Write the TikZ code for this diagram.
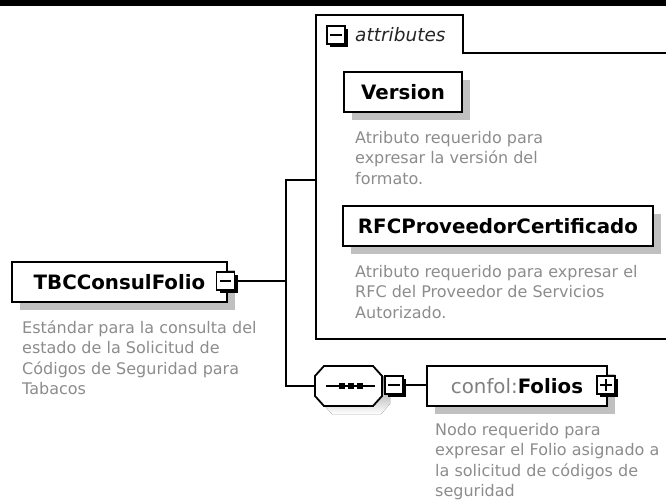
\documentclass[tikz,border=0pt]{standalone}
\usepackage{fontspec}
\setmainfont{DejaVu Sans}
\usetikzlibrary{shadows}
\definecolor{shade}{HTML}{C0C0C0}
\definecolor{descgray}{HTML}{8C8C8C}
\definecolor{prefixgray}{HTML}{808080}
\begin{document}
\begin{tikzpicture}[x=1pt,y=-1pt,
  namebox/.style={draw=black, line width=1.8pt, fill=white, minimum height=40pt, inner sep=0pt,
    font=\fontsize{19.8}{24}\selectfont\bfseries,
    general shadow={fill=shade, shadow xshift=8pt, shadow yshift=-8pt}},
  desc/.style={anchor=north west, inner sep=0pt, align=left, text=descgray,
    font=\fontsize{16}{20.5}\selectfont},
  icon/.style={draw=black, line width=1.3pt, fill=white, minimum size=18pt, inner sep=0pt,
    general shadow={fill=black, shadow xshift=3pt, shadow yshift=-3pt}},
  conn/.style={line width=1.8pt, draw=black},
  sign/.style={line width=1.4pt, draw=black}]
\useasboundingbox (0,0) rectangle (666,503);
\fill[black] (0,0) rectangle (666,6);

% attributes group
\draw[line width=1.8pt] (666,53) -- (463,53) -- (463,15) -- (316,15) -- (316,339) -- (666,339);
\node[icon] (attricon) at (336,35) {};
\draw[sign] ([xshift=4pt]attricon.west) -- ([xshift=-4pt]attricon.east);
\node[anchor=west, inner sep=0pt, text=black!85, font=\fontsize{18.5}{22}\selectfont\itshape] (attrlabel) at (355,35) {attributes};

\node[namebox, minimum width=118pt] (version) at (403,92) {Version};
\node[desc] (versiondesc) at (355,131) {Atributo requerido para\\expresar la versión del\\formato.};

\node[namebox, minimum width=310pt] (rfc) at (498,226) {RFCProveedorCertificado};
\node[desc] (rfcdesc) at (355,265) {Atributo requerido para expresar el\\RFC del Proveedor de Servicios\\Autorizado.};

% root element
\node[namebox, minimum width=215pt] (tbc) at (119.5,282) {TBCConsulFolio};
\node[desc] (tbcdesc) at (22,320) {Estándar para la consulta del\\estado de la Solicitud de\\Códigos de Seguridad para\\Tabacos};
\node[icon] (tbcicon) at (225.5,281) {};
\draw[sign] ([xshift=4pt]tbcicon.west) -- ([xshift=-4pt]tbcicon.east);

% sequence compositor
\fill[shade] (332,374) -- (381,374) -- (390,384) -- (390,404) -- (381,414) -- (332,414) -- (323,404) -- (323,384) -- cycle;
\draw[line width=1.8pt, fill=white] (324,366) -- (373,366) -- (382,376) -- (382,396) -- (373,406) -- (324,406) -- (315,396) -- (315,376) -- cycle;
\node[minimum width=67pt, minimum height=40pt, inner sep=0pt] (seq) at (348.5,386) {};
\draw[line width=1.3pt] (326,386) -- (375,386);
\fill[black] (338.5,383) rectangle (344.5,389);
\fill[black] (347.5,383) rectangle (353.5,389);
\fill[black] (356.5,383) rectangle (362.5,389);
\node[icon] (seqicon) at (394,385) {};
\draw[sign] ([xshift=4pt]seqicon.west) -- ([xshift=-4pt]seqicon.east);

% Folios element
\node[namebox, minimum width=180pt] (folios) at (517,386) {\textcolor{prefixgray}{\mdseries confol:}Folios};
\node[icon] (foliosicon) at (606,385) {};
\draw[sign] ([xshift=4pt]foliosicon.west) -- ([xshift=-4pt]foliosicon.east);
\draw[sign] ([yshift=-4pt]foliosicon.north) -- ([yshift=4pt]foliosicon.south);
\node[desc] (foliosdesc) at (435,423) {Nodo requerido para\\expresar el Folio asignado a\\la solicitud de códigos de\\seguridad};

% connectors
\coordinate (jtop) at (286,180);
\coordinate (jbot) at (286,386);
\coordinate (attrleft) at (316,180);
\draw[conn] (tbcicon.east) -- (tbcicon.east -| jtop);
\draw[conn] (attrleft) -- (jtop) -- (jbot) -- (seq.west);
\draw[conn] (seqicon.east) -- (seqicon.east -| folios.west);
\end{tikzpicture}
\end{document}
